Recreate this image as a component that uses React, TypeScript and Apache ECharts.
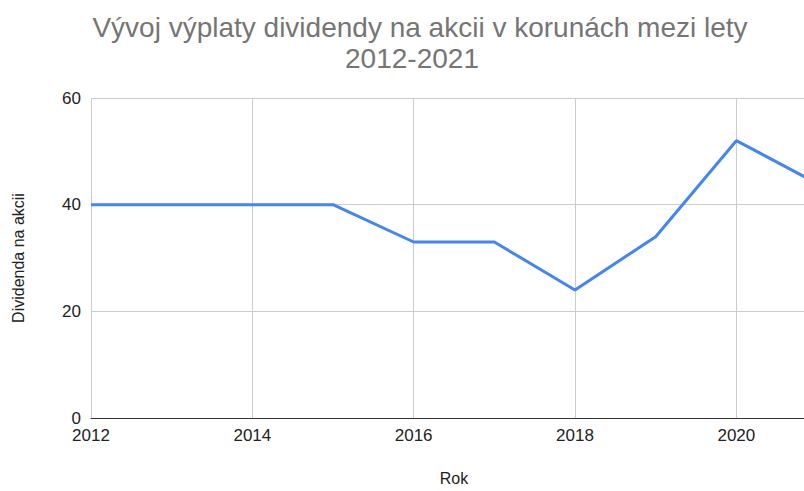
import React, { useEffect, useRef } from "react";
import * as echarts from "echarts";

const years = [2012, 2013, 2014, 2015, 2016, 2017, 2018, 2019, 2020, 2021];
const dividends = [40, 40, 40, 40, 33, 33, 24, 34, 52, 44];
const titleLine1 = "Vývoj výplaty dividendy na akcii v korunách mezi lety";
const titleLine2 = "2012-2021";
const xName = "Rok";
const yName = "Dividenda na akcii";

const FONT = "'Liberation Sans', Arial, sans-serif";

export default function App() {
  const ref = useRef<HTMLDivElement>(null);
  useEffect(() => {
    if (!ref.current) return;
    const chart = echarts.init(ref.current, undefined, { renderer: "svg" });
    chart.setOption({
      animation: false,
      backgroundColor: "#ffffff",
      textStyle: { fontFamily: FONT },
      graphic: [
        {
          type: "text",
          x: 420,
          y: 27,
          style: {
            text: titleLine1,
            font: `28px ${FONT}`,
            fill: "#757575",
            textAlign: "center",
            textVerticalAlign: "middle",
          },
        },
        {
          type: "text",
          x: 412,
          y: 58,
          style: {
            text: titleLine2,
            font: `28px ${FONT}`,
            fill: "#757575",
            textAlign: "center",
            textVerticalAlign: "middle",
          },
        },
      ],
      grid: { left: 91, right: 23, top: 98, bottom: 66, containLabel: false },
      xAxis: {
        type: "value",
        min: 2012,
        max: 2021,
        interval: 2,
        name: xName,
        nameLocation: "middle",
        nameGap: 52,
        nameTextStyle: { fontSize: 16, color: "#222222", fontFamily: FONT },
        axisLine: { show: true, lineStyle: { color: "#333333", width: 1 } },
        axisTick: { show: false },
        axisLabel: {
          fontSize: 17,
          lineHeight: 17,
          color: "#222222",
          margin: 9,
          fontFamily: FONT,
          formatter: (v: number) => (Math.round(v) % 2 === 0 ? String(v) : ""),
        },
        splitLine: { show: true, lineStyle: { color: "#cccccc", width: 1 } },
      },
      yAxis: {
        type: "value",
        min: 0,
        max: 60,
        interval: 20,
        name: yName,
        nameLocation: "middle",
        nameGap: 65,
        nameRotate: 90,
        nameTextStyle: { fontSize: 16, color: "#222222", fontFamily: FONT },
        axisLine: { show: false },
        axisTick: { show: false },
        axisLabel: {
          fontSize: 17,
          lineHeight: 14,
          color: "#222222",
          margin: 10,
          padding: [0, 0, 3, 0],
          fontFamily: FONT,
        },
        splitLine: { show: true, lineStyle: { color: "#cccccc", width: 1 } },
      },
      series: [
        {
          type: "line",
          data: years.map((y, i) => [y, dividends[i]]),
          showSymbol: false,
          symbol: "none",
          lineStyle: { color: "#4285F4", width: 3 },
          itemStyle: { color: "#4285F4" },
        },
      ],
    });
    return () => chart.dispose();
  }, []);
  return (
    <div
      style={{
        position: "fixed",
        left: 0,
        top: 0,
        width: 804,
        height: 491,
        overflow: "hidden",
        background: "#fff",
      }}
    >
      <div ref={ref} style={{ width: 840, height: 491 }} />
    </div>
  );
}
